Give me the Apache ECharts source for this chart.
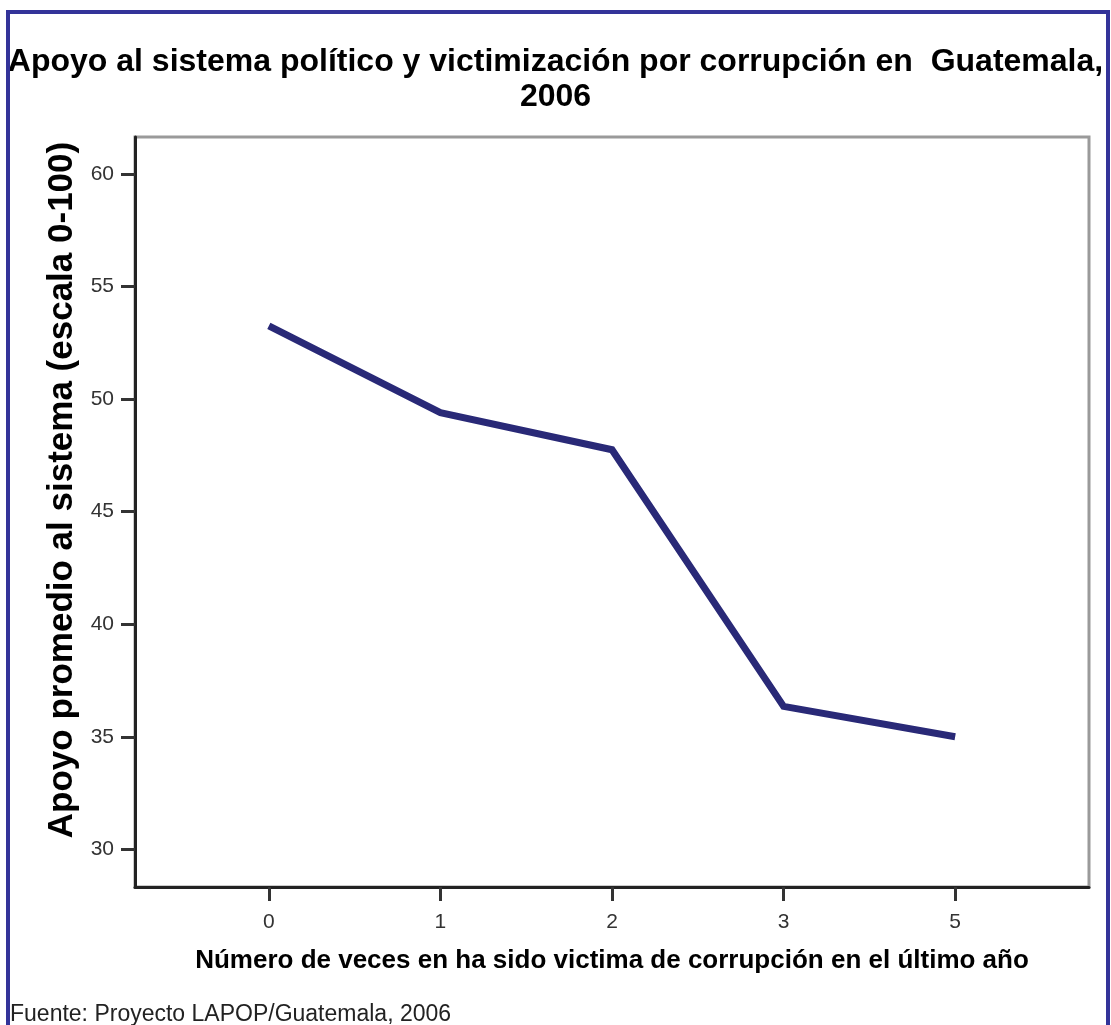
<!DOCTYPE html>
<html>
<head>
<meta charset="utf-8">
<script src="https://cdn.jsdelivr.net/npm/echarts@6/dist/echarts.min.js"></script>
<style>
html,body{margin:0;padding:0;background:#fff;}
#chart{width:1111px;height:1025px;}
</style>
</head>
<body>
<div id="chart"></div>
<script>
// ---- Data ----
const categories = ['0', '1', '2', '3', '5'];
const supportValues = [53.25, 49.4, 47.75, 36.35, 35.0];
const yTickValues = [30, 35, 40, 45, 50, 55, 60];

const titleText = 'Apoyo al sistema político y victimización por corrupción en  Guatemala,\n2006';
const xAxisTitle = 'Número de veces en ha sido victima de corrupción en el último año';
const yAxisTitle = 'Apoyo promedio al sistema (escala 0-100)';
const sourceText = 'Fuente: Proyecto LAPOP/Guatemala, 2006';

const catIndex = categories.map((c, i) => i);
const seriesData = supportValues.map((v, i) => [catIndex[i], v]);

const FONT = '"Liberation Sans", Arial, sans-serif';

const chart = echarts.init(document.getElementById('chart'), null, {renderer: 'canvas'});
chart.setOption({
  backgroundColor: '#ffffff',
  animation: false,
  title: {
    text: titleText,
    left: 'center',
    top: 40,
    textStyle: {fontFamily: FONT, fontWeight: 'bold', fontSize: 32, lineHeight: 35, color: '#000'}
  },
  grid: {
    left: 135, right: 22, top: 137, bottom: 138,
    show: true, borderColor: '#9a9a9a', borderWidth: 3, backgroundColor: '#fff'
  },
  xAxis: {
    type: 'value',
    min: -0.78, max: 4.78,
    splitLine: {show: false},
    axisLine: {show: true, onZero: false, lineStyle: {color: '#222', width: 3}},
    axisTick: {show: true, length: 14, lineStyle: {color: '#333', width: 3}, customValues: catIndex},
    axisLabel: {
      customValues: catIndex,
      formatter: v => categories[Math.round(v)],
      margin: 25, fontFamily: FONT, fontSize: 21, color: '#333'
    },
    name: xAxisTitle,
    nameLocation: 'middle',
    nameGap: 61,
    nameTextStyle: {fontFamily: FONT, fontWeight: 'bold', fontSize: 26, color: '#000', verticalAlign: 'top'}
  },
  yAxis: {
    type: 'value',
    min: 28.33, max: 61.64,
    splitLine: {show: false},
    axisLine: {show: true, onZero: false, lineStyle: {color: '#222', width: 3}},
    axisTick: {show: true, length: 14, lineStyle: {color: '#333', width: 3}, customValues: yTickValues},
    axisLabel: {customValues: yTickValues, margin: 21, fontFamily: FONT, fontSize: 21, color: '#333'}
  },
  graphic: [
    {
      type: 'rect',
      shape: {x: 8, y: 12, width: 1100, height: 1100},
      style: {fill: null, stroke: '#333399', lineWidth: 4},
      silent: true, z: 100
    },
    {
      type: 'text',
      x: 62, y: 490,
      rotation: Math.PI / 2,
      style: {text: yAxisTitle, fontFamily: FONT, fontWeight: 'bold', fontSize: 35, fill: '#000',
              textAlign: 'center', textVerticalAlign: 'middle'}
    },
    {
      type: 'text',
      x: 10, y: 1003,
      style: {text: sourceText, fontFamily: FONT, fontSize: 23, fill: '#222',
              textAlign: 'left', textVerticalAlign: 'top'}
    }
  ],
  series: [{
    type: 'line',
    data: seriesData,
    showSymbol: false,
    symbol: 'none',
    lineStyle: {color: '#292977', width: 7, cap: 'butt', join: 'miter'},
    z: 3
  }]
});
</script>
</body>
</html>
